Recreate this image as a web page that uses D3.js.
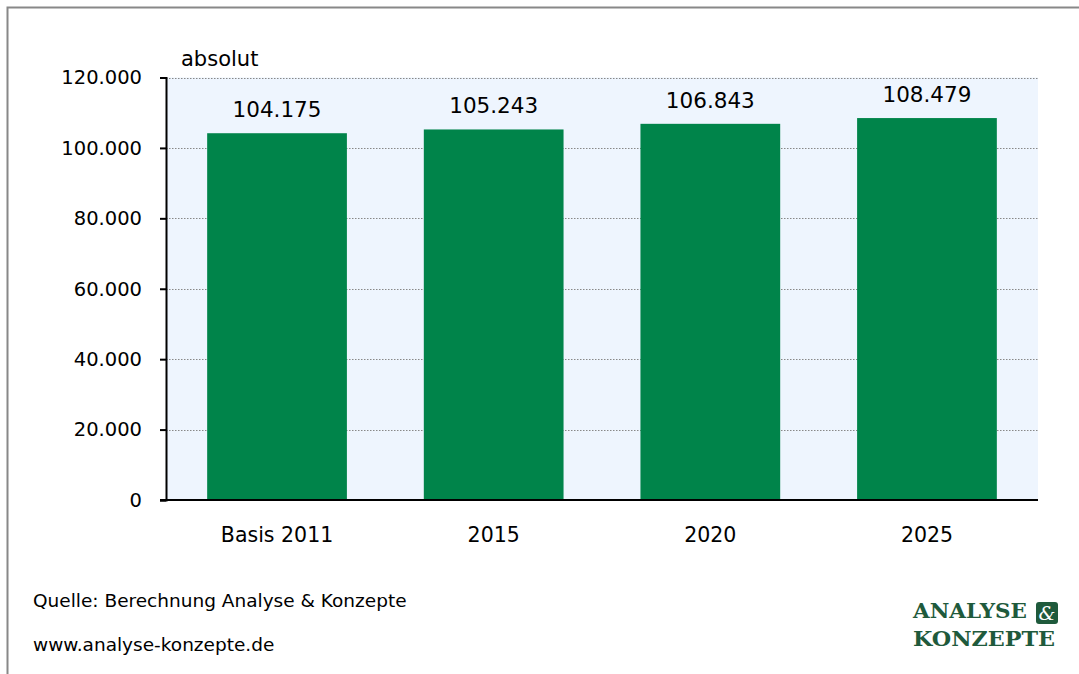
<!DOCTYPE html>
<meta charset="utf-8">
<style>
body { margin: 0; background: #fff; }
svg text { font-family: "DejaVu Sans", sans-serif; fill: #000; }
.grid line { stroke: #888; stroke-dasharray: 1.5,1.5; }
</style>
<svg id="chart" width="1079" height="674"></svg>
<script src="https://d3js.org/d3.v7.min.js"></script>
<script>

// data
var categories = ["Basis 2011", "2015", "2020", "2025"];
var values = [104175, 105243, 106843, 108479];
var yTicks = [0, 20000, 40000, 60000, 80000, 100000, 120000];

var svg = d3.select("#chart");

var fmt = function(v) { return d3.format(",")(v).replace(/,/g, "."); };

var plotLeft = 166, plotRight = 1038, plotTop = 77.5, plotBottom = 500;

// outer frame (cut at right/bottom)
svg.append("path")
    .attr("d", "M7.5,674 V7.5 H1079")
    .attr("fill", "none")
    .attr("stroke", "#888")
    .attr("stroke-width", 2);

var x = d3.scaleBand()
    .domain(categories)
    .range([plotLeft, plotRight])
    .paddingInner(0.355)
    .paddingOuter(0.19);

var y = d3.scaleLinear()
    .domain([0, 120000])
    .range([plotBottom, plotTop]);

svg.append("rect")
    .attr("x", plotLeft)
    .attr("y", plotTop)
    .attr("width", plotRight - plotLeft)
    .attr("height", plotBottom - plotTop)
    .attr("fill", "#eef5fe");

svg.append("g")
    .attr("class", "grid")
  .selectAll("line")
  .data(yTicks.filter(function(d) { return d > 0; }))
  .enter().append("line")
    .attr("x1", plotLeft)
    .attr("x2", plotRight)
    .attr("y1", function(d) { return Math.round(y(d)) + 0.5; })
    .attr("y2", function(d) { return Math.round(y(d)) + 0.5; });

svg.append("g")
  .selectAll("rect")
  .data(values)
  .enter().append("rect")
    .attr("x", function(d, i) { return x(categories[i]); })
    .attr("y", function(d) { return y(d); })
    .attr("width", x.bandwidth())
    .attr("height", function(d) { return plotBottom - y(d); })
    .attr("fill", "#00844a");

svg.append("g")
  .selectAll("text")
  .data(values)
  .enter().append("text")
    .attr("x", function(d, i) { return x(categories[i]) + x.bandwidth() / 2; })
    .attr("y", function(d) { return y(d) - 16; })
    .attr("text-anchor", "middle")
    .style("font-size", "21.5px")
    .text(fmt);

// y axis
var yAxis = svg.append("g")
    .attr("transform", "translate(" + plotLeft + ",0)")
    .call(d3.axisLeft(y).tickValues(yTicks).tickSize(6).tickPadding(18).tickFormat(fmt));
yAxis.select(".domain").attr("stroke", "#000").attr("stroke-width", 2);
yAxis.selectAll(".tick line").attr("stroke", "#000").attr("stroke-width", 2);
yAxis.selectAll("text").style("font-size", "19.5px").style("font-family", "DejaVu Sans");

// x axis
var xAxis = svg.append("g")
    .attr("transform", "translate(0," + plotBottom + ")")
    .call(d3.axisBottom(x).tickSize(0).tickPadding(27));
xAxis.select(".domain").attr("d", "M" + (plotLeft - 6) + ",0H" + plotRight).attr("stroke", "#000").attr("stroke-width", 2);
xAxis.selectAll("text").style("font-size", "20.5px").style("font-family", "DejaVu Sans");

svg.append("text")
    .attr("x", 181)
    .attr("y", 66)
    .style("font-size", "21px")
    .text("absolut");

svg.append("text")
    .attr("x", 33)
    .attr("y", 607)
    .style("font-size", "18.5px")
    .text("Quelle: Berechnung Analyse & Konzepte");

svg.append("text")
    .attr("x", 33)
    .attr("y", 651)
    .style("font-size", "18.5px")
    .text("www.analyse-konzepte.de");

// logo
var logo = svg.append("g");
logo.append("text")
    .attr("x", 913)
    .attr("y", 618)
    .style("font-family", "'DejaVu Serif', serif")
    .style("font-weight", "bold")
    .style("font-size", "20px")
    .style("fill", "#1f5a3c")
    .attr("textLength", 114)
    .attr("lengthAdjust", "spacingAndGlyphs")
    .text("ANALYSE");
logo.append("rect")
    .attr("x", 1036)
    .attr("y", 602)
    .attr("width", 22)
    .attr("height", 22)
    .attr("rx", 3)
    .attr("fill", "#1f5a3c");
logo.append("text")
    .attr("x", 1047)
    .attr("y", 620)
    .attr("text-anchor", "middle")
    .style("font-family", "'DejaVu Serif', serif")
    .style("font-style", "italic")
    .style("font-size", "19px")
    .style("fill", "#fff")
    .text("&");
logo.append("text")
    .attr("x", 913)
    .attr("y", 646)
    .style("font-family", "'DejaVu Serif', serif")
    .style("font-weight", "bold")
    .style("font-size", "20px")
    .style("fill", "#1f5a3c")
    .attr("textLength", 142)
    .attr("lengthAdjust", "spacingAndGlyphs")
    .text("KONZEPTE");

</script>
